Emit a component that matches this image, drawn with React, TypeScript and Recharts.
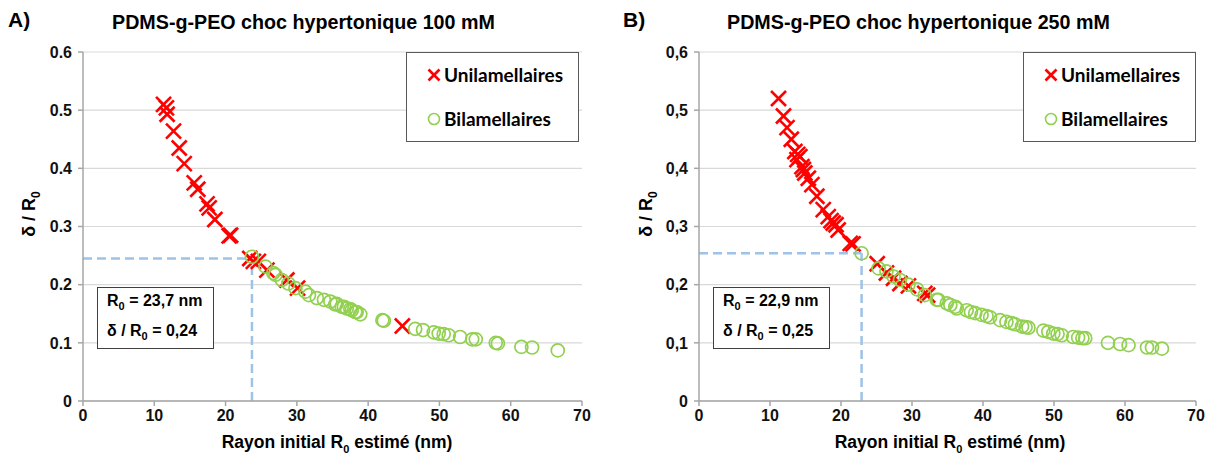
import React from 'react';
import { ScatterChart, Scatter, XAxis, YAxis, CartesianGrid, ReferenceLine } from 'recharts';

// [rayon R0 (nm), delta / R0]
const uniA: [number, number][] = [
  [11.3, 0.51], [11.7, 0.504], [11.8, 0.493], [12.7, 0.464], [13.5, 0.435], [14.2, 0.408],
  [15.6, 0.375], [16.1, 0.364], [17.4, 0.339], [17.7, 0.332], [18.5, 0.312], [20.5, 0.284],
  [20.7, 0.285], [23.4, 0.245], [23.9, 0.24], [24.6, 0.24], [25.8, 0.225], [28.6, 0.208],
  [30.1, 0.194], [44.8, 0.129],
];
const biA: [number, number][] = [
  [23.7, 0.248], [25.6, 0.231], [26.7, 0.22], [27.0, 0.217], [27.9, 0.208], [28.8, 0.202],
  [29.8, 0.194], [31.2, 0.188], [31.7, 0.182], [32.8, 0.177], [33.8, 0.174], [34.7, 0.171],
  [35.4, 0.166], [35.6, 0.167], [36.3, 0.162], [36.6, 0.162], [37.0, 0.159], [37.5, 0.158],
  [37.7, 0.156], [38.2, 0.153], [38.4, 0.153], [38.9, 0.149], [42.0, 0.139], [42.2, 0.138],
  [46.6, 0.124], [47.7, 0.122], [49.2, 0.118], [49.9, 0.116], [50.6, 0.115], [51.3, 0.113],
  [52.9, 0.11], [54.6, 0.106], [55.1, 0.106], [57.9, 0.1], [58.2, 0.099], [61.5, 0.093],
  [63.0, 0.092], [66.6, 0.087],
];
const uniB: [number, number][] = [
  [11.2, 0.52], [11.9, 0.49], [12.4, 0.47], [13.0, 0.45], [13.5, 0.429], [13.9, 0.424],
  [14.2, 0.42], [13.8, 0.415], [14.5, 0.403], [14.7, 0.398], [14.9, 0.392], [15.4, 0.383],
  [15.9, 0.372], [16.6, 0.352], [17.5, 0.329], [18.2, 0.317], [18.6, 0.31], [18.9, 0.306],
  [19.3, 0.303], [19.6, 0.294], [21.3, 0.271], [21.7, 0.27], [25.1, 0.236], [26.4, 0.22],
  [27.4, 0.211], [28.3, 0.202], [29.5, 0.198], [31.8, 0.185], [32.2, 0.182],
];
const biB: [number, number][] = [
  [22.9, 0.254], [25.3, 0.228], [26.4, 0.223], [27.4, 0.214], [28.3, 0.208], [29.5, 0.2],
  [30.7, 0.192], [31.8, 0.182], [33.5, 0.174], [33.7, 0.174], [34.9, 0.168], [35.4, 0.165],
  [36.1, 0.162], [36.3, 0.159], [37.7, 0.156], [38.3, 0.153], [38.9, 0.151], [39.8, 0.148],
  [40.5, 0.146], [41.0, 0.144], [42.4, 0.139], [43.3, 0.136], [44.0, 0.134], [44.5, 0.132],
  [45.5, 0.128], [46.0, 0.127], [46.4, 0.126], [48.5, 0.121], [49.2, 0.119], [49.9, 0.116],
  [50.5, 0.115], [51.1, 0.113], [52.7, 0.11], [53.4, 0.109], [54.0, 0.108], [54.4, 0.108],
  [57.6, 0.1], [59.3, 0.098], [60.5, 0.096], [63.1, 0.092], [63.8, 0.092], [65.2, 0.09],
];

const xTicks = [0, 10, 20, 30, 40, 50, 60, 70];
const yTicks = [0, 0.1, 0.2, 0.3, 0.4, 0.5, 0.6];

const RED = '#FF0000';
const GREEN = '#92D050';
const DASH = '#9DC3E6';
const FONT = '"Liberation Sans", Arial, sans-serif';
const LEGEND_FONT = 'Lato, "Open Sans", sans-serif';

const toPts = (arr: [number, number][]) => arr.map(([x, y]) => ({ x, y }));

const Cross = (props: any) => {
  const { cx, cy } = props;
  if (cx == null || cy == null) return null;
  const s = 7.5;
  return (
    <g stroke={RED} strokeWidth={2.6}>
      <line x1={cx - s} y1={cy - s} x2={cx + s} y2={cy + s} />
      <line x1={cx - s} y1={cy + s} x2={cx + s} y2={cy - s} />
    </g>
  );
};

const Ring = (props: any) => {
  const { cx, cy } = props;
  if (cx == null || cy == null) return null;
  return <circle cx={cx} cy={cy} r={6.5} fill="none" stroke={GREEN} strokeWidth={1.7} />;
};

interface PanelProps {
  left: number;
  width: number;
  marginLeft: number;
  marginRight: number;
  uni: [number, number][];
  bi: [number, number][];
  r0: number;
  ratio: number;
  comma: boolean;
}

function Panel({ left, width, marginLeft, marginRight, uni, bi, r0, ratio, comma }: PanelProps) {
  const fmt = (v: number) => {
    const s = v === 0 ? '0' : v.toFixed(1);
    return comma ? s.replace('.', ',') : s;
  };
  const tickStyle = { fill: '#111', fontSize: 16, fontWeight: 700, fontFamily: FONT };
  return (
    <div style={{ position: 'absolute', left, top: 0 }}>
      <ScatterChart width={width} height={454} margin={{ top: 52, right: marginRight, bottom: 23, left: marginLeft }}>
        <CartesianGrid vertical={false} stroke="#D9D9D9" strokeWidth={1.2} />
        <XAxis
          type="number"
          dataKey="x"
          domain={[0, 70]}
          ticks={xTicks}
          height={30}
          stroke="#A6A6A6"
          strokeWidth={1.5}
          tickSize={5}
          tickMargin={4}
          tick={tickStyle}
        />
        <YAxis
          type="number"
          dataKey="y"
          domain={[0, 0.6]}
          ticks={yTicks}
          width={40}
          stroke="#A6A6A6"
          strokeWidth={1.5}
          tickSize={5}
          tickMargin={6}
          tickFormatter={fmt}
          tick={tickStyle}
        />
        <ReferenceLine
          segment={[{ x: 0, y: ratio }, { x: r0, y: ratio }]}
          stroke={DASH}
          strokeWidth={2.5}
          strokeDasharray="9 5"
        />
        <ReferenceLine
          segment={[{ x: r0, y: 0 }, { x: r0, y: ratio }]}
          stroke={DASH}
          strokeWidth={2.5}
          strokeDasharray="9 5"
        />
        <Scatter data={toPts(uni)} shape={<Cross />} isAnimationActive={false} />
        <Scatter data={toPts(bi)} shape={<Ring />} isAnimationActive={false} />
      </ScatterChart>
    </div>
  );
}

const abs = (extra: React.CSSProperties): React.CSSProperties => ({
  position: 'absolute',
  fontFamily: FONT,
  fontWeight: 700,
  color: '#000',
  whiteSpace: 'nowrap',
  ...extra,
});

function LegendBox({ left }: { left: number }) {
  return (
    <div
      style={{
        position: 'absolute',
        left,
        top: 52,
        width: 173,
        height: 90,
        border: '1.5px solid #595959',
        background: '#fff',
        boxSizing: 'border-box',
        fontFamily: LEGEND_FONT,
        fontWeight: 700,
        fontSize: 19,
      }}
    >
      <div style={{ position: 'absolute', left: 20, top: 10, display: 'flex', alignItems: 'center' }}>
        <svg width={14} height={14} style={{ marginRight: 3 }}>
          <line x1={1.5} y1={1.5} x2={12.5} y2={12.5} stroke={RED} strokeWidth={2.6} />
          <line x1={1.5} y1={12.5} x2={12.5} y2={1.5} stroke={RED} strokeWidth={2.6} />
        </svg>
        <span>Unilamellaires</span>
      </div>
      <div style={{ position: 'absolute', left: 20, top: 54, display: 'flex', alignItems: 'center' }}>
        <svg width={14} height={14} style={{ marginRight: 3 }}>
          <circle cx={7} cy={7} r={5.5} fill="none" stroke={GREEN} strokeWidth={1.6} />
        </svg>
        <span>Bilamellaires</span>
      </div>
    </div>
  );
}

function InfoBox({ left, r0, ratio }: { left: number; r0: string; ratio: string }) {
  return (
    <div
      style={{
        position: 'absolute',
        left,
        top: 287,
        width: 117,
        height: 62,
        border: '1.5px solid #404040',
        background: '#fff',
        boxSizing: 'border-box',
        fontFamily: FONT,
        fontWeight: 700,
        fontSize: 16,
      }}
    >
      <div style={{ position: 'absolute', left: 9, top: 4 }}>
        R<sub style={{ fontSize: 11 }}>0</sub> = {r0} nm
      </div>
      <div style={{ position: 'absolute', left: 9, top: 34 }}>
        δ / R<sub style={{ fontSize: 11 }}>0</sub> = {ratio}
      </div>
    </div>
  );
}

const XTitle = ({ cx }: { cx: number }) => (
  <div style={abs({ left: cx - 120, width: 240, top: 432, fontSize: 17.5, textAlign: 'center' })}>
    Rayon initial R<sub style={{ fontSize: 11 }}>0</sub> estimé (nm)
  </div>
);

const YTitle = ({ cx }: { cx: number }) => (
  <div
    style={abs({
      left: cx - 40,
      width: 80,
      top: 214,
      fontSize: 18,
      textAlign: 'center',
      transform: 'translateY(-50%) rotate(-90deg)',
    })}
  >
    δ / R<sub style={{ fontSize: 12 }}>0</sub>
  </div>
);

export default function App() {
  return (
    <div style={{ position: 'absolute', left: 0, top: 0, width: 1211, height: 454, background: '#fff', overflow: 'hidden' }}>
      <Panel left={0} width={600} marginLeft={43} marginRight={18} uni={uniA} bi={biA} r0={23.7} ratio={0.245} comma={false} />
      <Panel left={600} width={611} marginLeft={59} marginRight={15} uni={uniB} bi={biB} r0={22.9} ratio={0.254} comma={true} />

      <div style={abs({ left: 8, top: 8, fontSize: 21 })}>A)</div>
      <div style={abs({ left: 112, top: 11, fontSize: 19.7 })}>PDMS-g-PEO choc hypertonique 100 mM</div>
      <div style={abs({ left: 623, top: 8, fontSize: 21 })}>B)</div>
      <div style={abs({ left: 727, top: 11, fontSize: 19.7 })}>PDMS-g-PEO choc hypertonique 250 mM</div>

      <LegendBox left={406} />
      <LegendBox left={1023} />
      <InfoBox left={97} r0="23,7" ratio="0,24" />
      <InfoBox left={713} r0="22,9" ratio="0,25" />

      <XTitle cx={337} />
      <XTitle cx={950} />
      <YTitle cx={31} />
      <YTitle cx={648} />
    </div>
  );
}
